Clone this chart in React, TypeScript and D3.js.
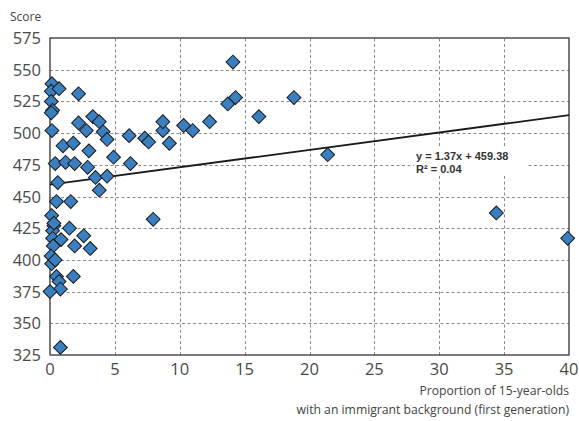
import React from 'react';
import * as d3 from 'd3';

// proportion of 15-year-olds with immigrant background (first generation)
const xValues = [
  0.15, 0.1, 0.7, 0.1, 0.2, 0.1, 0.15, 2.2, 1.0, 1.8,
  2.2, 2.8, 3.0, 3.3, 3.8, 4.1, 4.4, 6.1, 4.9, 0.4,
  1.2, 1.9, 2.9, 3.5, 4.4, 6.2, 0.6, 3.8, 7.3, 7.6,
  8.7, 8.7, 9.2, 10.3, 11.0, 12.3, 13.7, 14.3, 16.1, 18.8,
  21.4, 14.1, 7.95, 34.4, 39.9,
  0.5, 1.6, 0.13, 0.3, 0.2, 1.5, 2.6, 0.2, 0.85, 0.25,
  1.9, 3.1, 0.08, 0.13, 0.5, 0.7, 1.8, 0.8, 0.0, 0.8,
  0.4, 0.3,
];
const scores = [
  539, 533, 535, 525, 518, 516, 502, 531, 490, 492,
  508, 502, 486, 513, 509, 501, 495, 498, 481, 476,
  477, 476, 473, 465, 466, 476, 461, 455, 496, 493,
  502, 509, 492, 506, 502, 509, 523, 528, 513, 528,
  483, 556, 432, 437, 417,
  446, 446, 435, 427, 423, 425, 419, 417, 416, 411,
  411, 409, 403, 397, 387, 383, 387, 377, 375, 331,
  400, 429,
];

const xTicks = [0, 5, 10, 15, 20, 25, 30, 35, 40];
const yTicks = [325, 350, 375, 400, 425, 450, 475, 500, 525, 550, 575];
const slope = 1.37;
const intercept = 459.38;
const equationLines = ['y = 1.37x + 459.38', 'R² = 0.04'];
const yTitle = 'Score';
const xTitleLines = ['Proportion of 15-year-olds', 'with an immigrant background (first generation)'];

const W = 579;
const H = 421;
const margin = { left: 50, right: 10, top: 38, bottom: 66 };
const FONT = '"Open Sans", "Noto Sans", sans-serif';

export default function App() {
  const x = d3.scaleLinear().domain([0, 40]).range([margin.left, W - margin.right]);
  const y = d3.scaleLinear().domain([325, 575]).range([H - margin.bottom, margin.top]);
  const diamond = d3.symbol(d3.symbolSquare, 96)() as string;
  const points = xValues.map((v, i) => ({ x: v, y: scores[i] }));

  return (
    <div style={{ position: 'absolute', left: 0, top: 0 }}>
      <svg width={W} height={H} style={{ display: 'block', background: '#fff' }}>
        {/* grid */}
        <g stroke="#8a8a8a" strokeWidth={1} strokeDasharray="3,2.5">
          {yTicks.slice(1, -1).map(t => (
            <line key={'gy' + t} x1={x(0)} x2={x(40)} y1={Math.round(y(t)) + 0.5} y2={Math.round(y(t)) + 0.5} />
          ))}
          {xTicks.slice(1, -1).map(t => (
            <line key={'gx' + t} y1={y(325)} y2={y(575)} x1={Math.round(x(t)) + 0.5} x2={Math.round(x(t)) + 0.5} />
          ))}
        </g>
        {/* frame */}
        <rect x={x(0)} y={y(575)} width={x(40) - x(0)} height={y(325) - y(575)} fill="none" stroke="#333" strokeWidth={1.3} />

        {/* equation label */}
        <rect x={414} y={148} width={112} height={28} fill="#fff" />
        <g fontFamily='"Liberation Sans", Arial, sans-serif' fontWeight="bold" fontSize={11} fill="#333">
          {equationLines.map((s, i) => (
            <text key={s} x={416} y={160 + i * 12.5}>{s}</text>
          ))}
        </g>

        {/* trend line */}
        <line x1={x(0)} x2={x(40)} y1={y(intercept)} y2={y(intercept + slope * 40)} stroke="#1a1a1a" strokeWidth={1.8} />

        {/* points */}
        <g fill="#3a7fbf" stroke="#1a1a1a" strokeWidth={1}>
          {points.map((p, i) => (
            <path key={i} d={diamond} transform={`translate(${x(p.x)},${y(p.y)}) rotate(45)`} />
          ))}
        </g>

        {/* y ticks */}
        <g fontFamily={FONT} fontSize={16.5} fill="#4a4a4a" textAnchor="end">
          {yTicks.map(t => (
            <text key={t} x={41} y={y(t) + 6}>{t}</text>
          ))}
        </g>
        {/* x ticks */}
        <g fontFamily={FONT} fontSize={16.5} fill="#4a4a4a" textAnchor="middle">
          {xTicks.map(t => (
            <text key={t} x={x(t)} y={375}>{t}</text>
          ))}
        </g>
        <text x={10} y={21} fontFamily={FONT} fontSize={12} fill="#444">{yTitle}</text>
        <g fontFamily={FONT} fontSize={12.2} fill="#444" textAnchor="end">
          {xTitleLines.map((s, i) => (
            <text key={s} x={x(40)} y={395 + i * 19}>{s}</text>
          ))}
        </g>
      </svg>
    </div>
  );
}
